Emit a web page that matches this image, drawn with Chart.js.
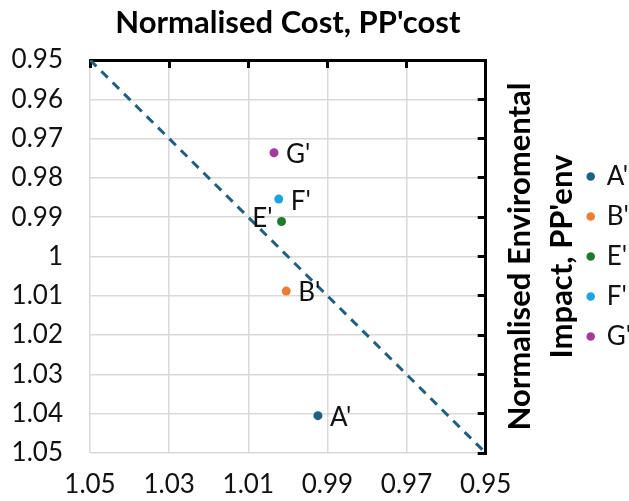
<!DOCTYPE html>
<html><head><meta charset="utf-8">
<script src="https://cdn.jsdelivr.net/npm/chart.js@4.4.0/dist/chart.umd.min.js"></script>
<style>html,body{margin:0;padding:0;background:#fff;overflow:hidden}#wrap{width:629px;height:501px;position:relative}</style>
</head><body><div id="wrap"><canvas id="c" width="629" height="501"></canvas></div>
<script>
// ---- data ----
const seriesNames = ["A'", "B'", "E'", "F'", "G'"];
const costValues  = [0.9924, 1.0004, 1.0016, 1.0023, 1.0035];   // x: Normalised Cost
const envValues   = [1.0405, 1.0088, 0.9911, 0.9854, 0.9736];   // y: Normalised Environmental Impact
const seriesColors = ['#1D6286', '#ED7D31', '#217A2B', '#1CA3E0', '#A43A9C'];
const parityX = [1.05, 0.95];
const parityY = [0.95, 1.05];
const xTickLabels = ['1.05', '1.03', '1.01', '0.99', '0.97', '0.95'];
const yTickLabels = ['0.95', '0.96', '0.97', '0.98', '0.99', '1', '1.01', '1.02', '1.03', '1.04', '1.05'];
const chartTitle = "Normalised Cost, PP'cost";
const yTitleLines = ["Normalised Enviromental", "Impact, PP'env"];
const leftLabelSeries = ["E'"];

const FONT = 'Lato, "Open Sans", "Liberation Sans", sans-serif';

function labelFor(list, v) {
  for (const s of list) if (Math.abs(parseFloat(s) - v) < 1e-6) return s;
  return '';
}

const datasets = seriesNames.map((n, i) => ({
  type: 'scatter',
  label: n,
  data: [{x: costValues[i], y: envValues[i]}],
  backgroundColor: seriesColors[i],
  borderColor: seriesColors[i],
  borderWidth: 0,
  pointRadius: 4.5,
  pointStyle: 'circle'
}));
datasets.push({
  type: 'line',
  label: 'parity',
  data: parityX.map((x, i) => ({x, y: parityY[i]})),
  borderColor: '#1F5F7F',
  borderWidth: 3,
  borderDash: [9, 7],
  pointRadius: 0,
  fill: false,
  tension: 0
});

const extrasPlugin = {
  id: 'extras',
  afterDatasetsDraw(chart) {
    const ctx = chart.ctx;
    ctx.save();
    ctx.font = '26px ' + FONT;
    ctx.fillStyle = '#111';
    ctx.textBaseline = 'middle';
    seriesNames.forEach((n, i) => {
      const pt = chart.getDatasetMeta(i).data[0];
      if (!pt) return;
      if (leftLabelSeries.includes(n)) {
        ctx.textAlign = 'right';
        ctx.fillText(n, pt.x - 9, pt.y - 3);
      } else {
        ctx.textAlign = 'left';
        ctx.fillText(n, pt.x + 12, pt.y + 2);
      }
    });
    ctx.restore();
  },
  afterDraw(chart) {
    const ctx = chart.ctx, a = chart.chartArea;
    ctx.save();
    ctx.fillStyle = '#000';
    ctx.font = 'bold 31px ' + FONT;
    ctx.textAlign = 'center';
    ctx.textBaseline = 'alphabetic';
    ctx.fillText(chartTitle, (a.left + a.right) / 2, 33);
    const cy = (a.top + a.bottom) / 2;
    ctx.translate(a.right + 44, cy);
    ctx.rotate(-Math.PI / 2);
    ctx.fillText(yTitleLines[0], 0, 0);
    ctx.fillText(yTitleLines[1], 0, 42);
    ctx.restore();
  }
};

const gridStyle = {color: '#d9d9d9', lineWidth: 1.5, drawTicks: false};

new Chart(document.getElementById('c'), {
  data: {datasets},
  options: {
    responsive: false,
    animation: false,
    devicePixelRatio: 1,
    layout: {padding: {top: 60, right: -12, left: 0, bottom: 0}},
    plugins: {
      title: {display: false},
      tooltip: {enabled: false},
      legend: {
        display: true,
        position: 'right',
        align: 'center',
        fullSize: false,
        labels: {
          usePointStyle: true,
          pointStyle: 'circle',
          boxWidth: 6,
          boxHeight: 6,
          padding: 14,
          color: '#111',
          font: {family: FONT, size: 26},
          filter: (item) => seriesNames.includes(item.text)
        }
      }
    },
    scales: {
      x: {
        type: 'linear', position: 'bottom', reverse: true, min: 0.95, max: 1.05,
        grid: gridStyle, border: {display: false},
        ticks: {stepSize: 0.02, color: '#111', font: {family: FONT, size: 26}, padding: 16,
                callback: (v) => labelFor(xTickLabels, v), maxRotation: 0, autoSkip: false},
        afterFit: (s) => { s.height = 48; }
      },
      y: {
        type: 'linear', position: 'left', reverse: true, min: 0.95, max: 1.05,
        grid: gridStyle, border: {display: false},
        ticks: {stepSize: 0.01, color: '#111', font: {family: FONT, size: 26}, padding: 27,
                callback: (v) => labelFor(yTickLabels, v), autoSkip: false},
        afterFit: (s) => { s.width = 90; }
      },
      x2: {
        type: 'linear', position: 'top', reverse: true, min: 0.95, max: 1.05,
        grid: {drawOnChartArea: false, drawTicks: true, tickLength: -8, tickColor: '#000', tickWidth: 3},
        border: {display: true, color: '#000', width: 3},
        ticks: {display: false, stepSize: 0.02},
        afterFit: (s) => { s.height = 0; }
      },
      y2: {
        type: 'linear', position: 'right', reverse: true, min: 0.95, max: 1.05,
        grid: {drawOnChartArea: false, drawTicks: true, tickLength: -8, tickColor: '#000', tickWidth: 3},
        border: {display: true, color: '#000', width: 3},
        ticks: {display: false, stepSize: 0.01},
        afterFit: (s) => { s.width = 88; }
      }
    }
  },
  plugins: [extrasPlugin]
});
</script>
</body></html>
